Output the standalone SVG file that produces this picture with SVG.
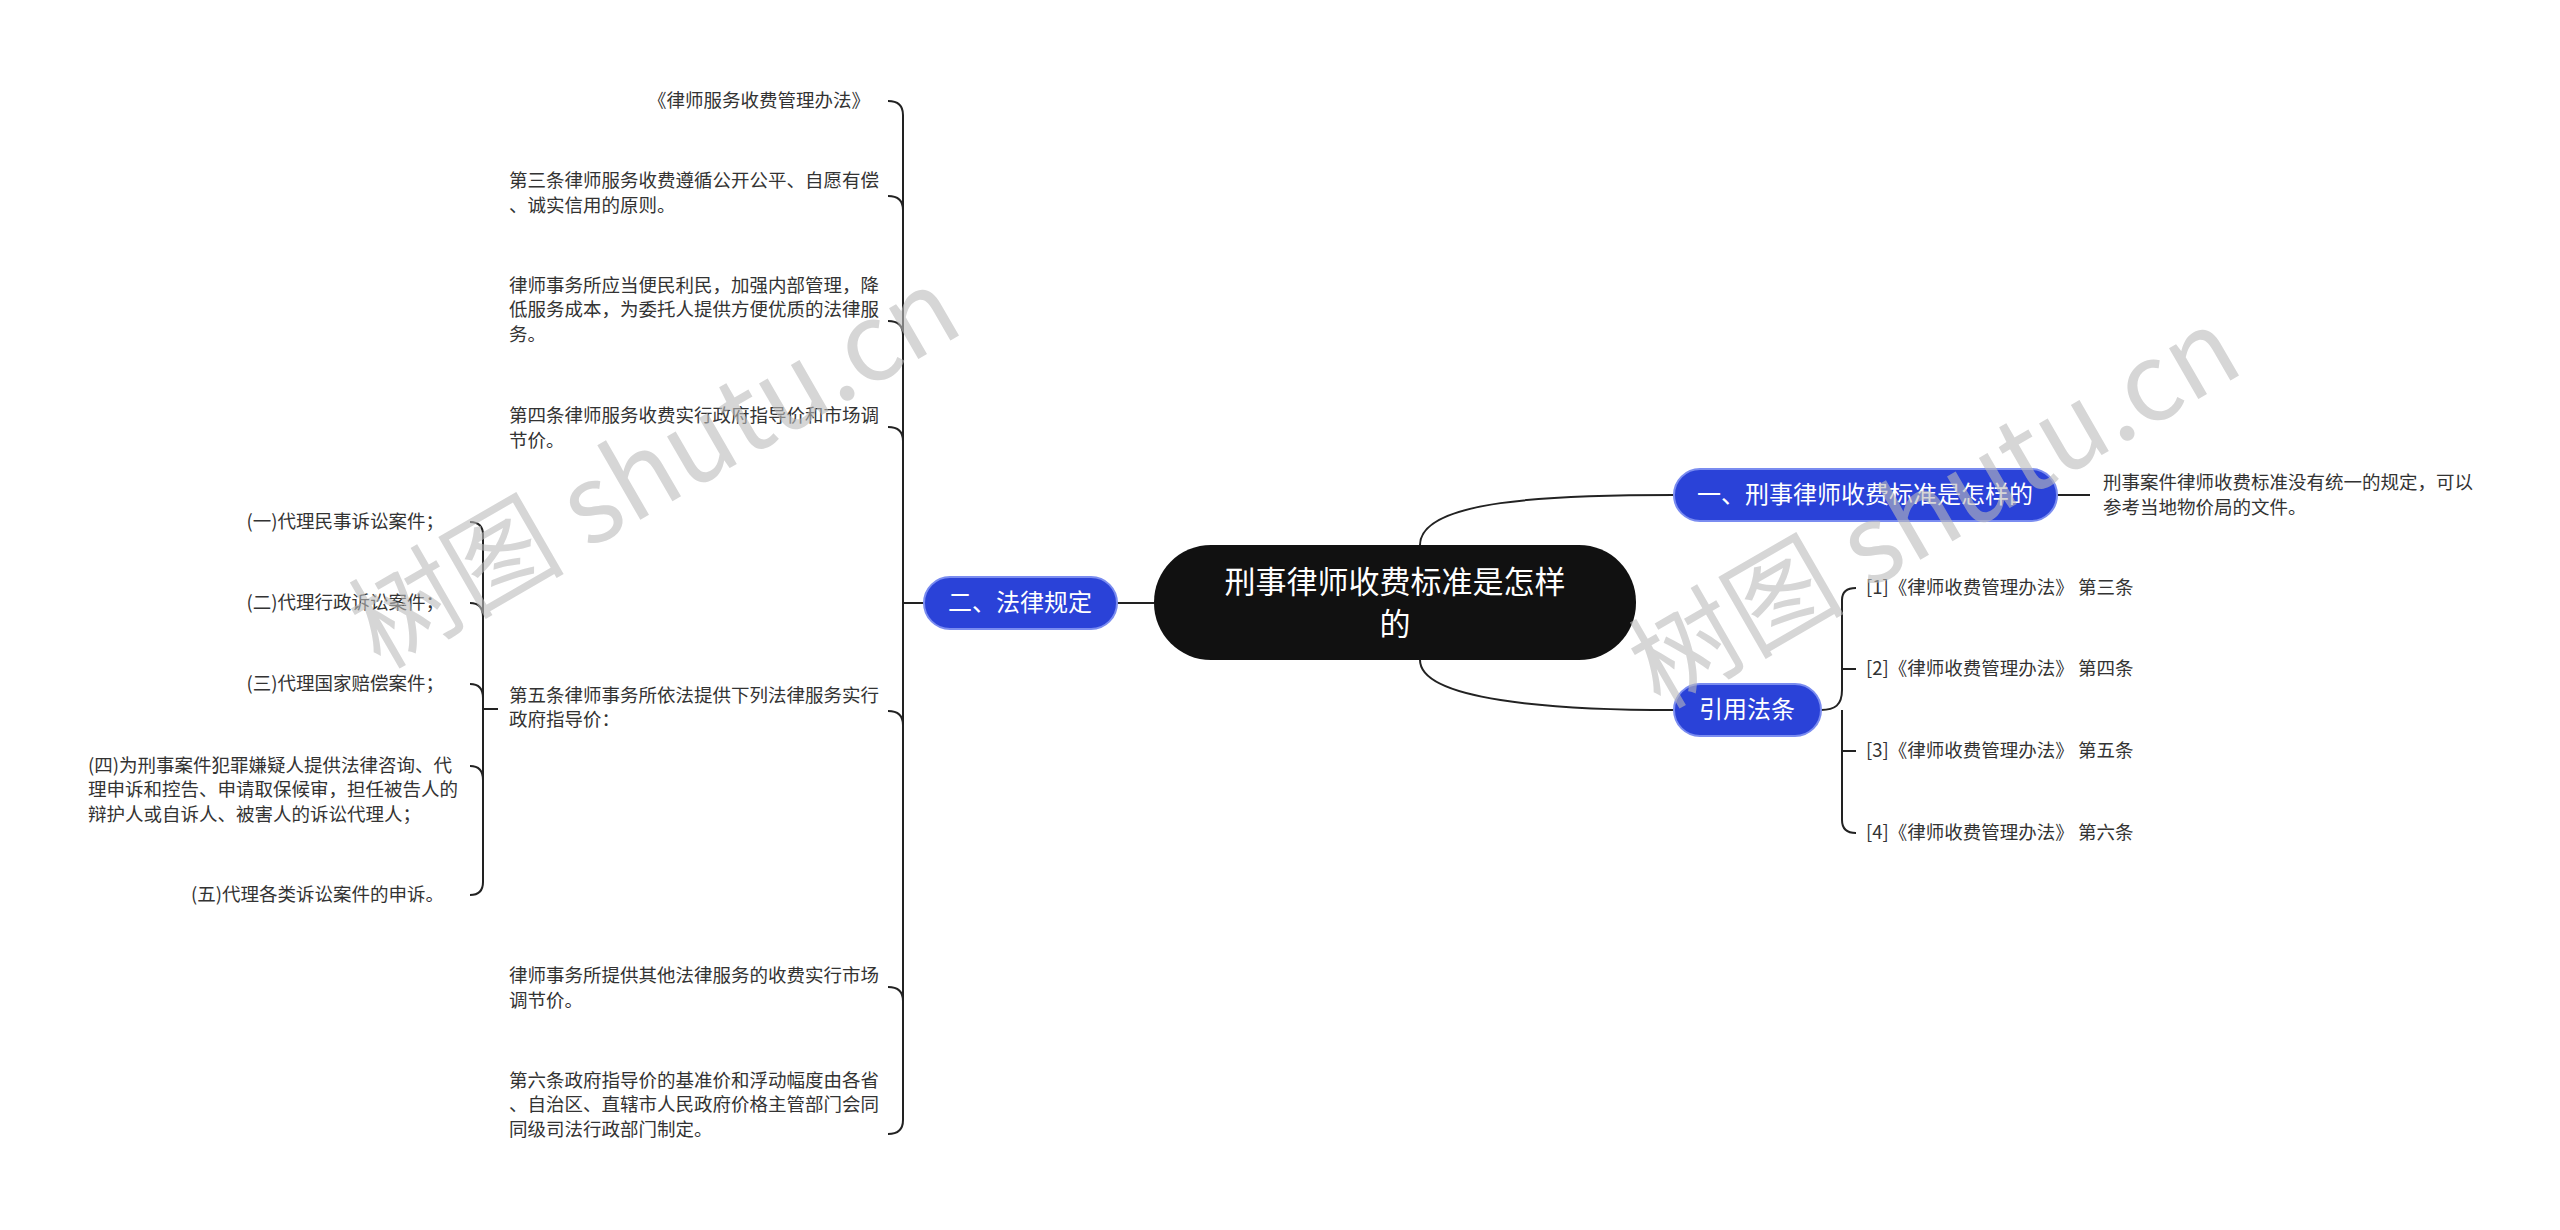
<svg xmlns="http://www.w3.org/2000/svg" width="2560" height="1230" viewBox="0 0 2560 1230">
<style>
text{font-family:"Noto Sans CJK SC","Liberation Sans",sans-serif;}
.leaf{font-size:18.5px;fill:#333}
.r{text-anchor:end}
.blue rect{fill:#2a42d8;stroke:#7a8cf0;stroke-width:2}
.blue text{fill:#fff;font-size:24px;text-anchor:middle}
.ln{fill:none;stroke:#222;stroke-width:2}
.wm{font-size:108px;fill:#bbb;opacity:0.6;font-family:"Noto Sans CJK SC","Liberation Serif",serif}
</style>
<rect width="2560" height="1230" fill="#fff"/>
<g id="connectors" class="ln">
<path d="M1420,545 C1420,500 1550,495 1674,495"/>
<path d="M1420,660 C1420,700 1550,710 1674,710"/>
<path d="M1154,603 L1117,603"/>
<path d="M2057,495 L2090,495"/>
<path d="M1821,710 C1835,710 1842,705 1842,690 L1842,600 Q1842,588 1856,588"/>
<path d="M1842,690 L1842,669 Q1842,669 1856,669"/>
<path d="M1842,710 L1842,751 Q1842,751 1856,751"/>
<path d="M1842,720 L1842,820 Q1842,833 1856,833"/>
<path d="M924,603 L903,603"/>
<path d="M903,603 L903,115 Q903,101 888,101"/>
<path d="M903,210 Q903,196 888,196"/>
<path d="M903,335 Q903,321 888,321"/>
<path d="M903,441 Q903,427 888,427"/>
<path d="M903,603 L903,1120 Q903,1134 888,1134"/>
<path d="M903,725 Q903,711 888,711"/>
<path d="M903,1001 Q903,987 888,987"/>
<path d="M498,709 L483,709"/>
<path d="M483,709 L483,535 Q483,522 470,522"/>
<path d="M483,617 Q483,603 470,603"/>
<path d="M483,698 Q483,684 470,684"/>
<path d="M483,780 Q483,766 470,766"/>
<path d="M483,709 L483,882 Q483,895 470,895"/>
</g>
<g id="center"><rect x="1154" y="545" width="482" height="115" rx="57" fill="#111"/><text x="1395" y="593" fill="#fff" font-size="31" text-anchor="middle">刑事律师收费标准是怎样</text><text x="1395" y="635" fill="#fff" font-size="31" text-anchor="middle">的</text></g>
<g id="n1" class="blue"><rect x="1674" y="469" width="383" height="52" rx="26"/><text x="1865" y="503">一、刑事律师收费标准是怎样的</text></g>
<g id="n2" class="blue"><rect x="924" y="577" width="193" height="52" rx="26"/><text x="1020" y="611">二、法律规定</text></g>
<g id="n3" class="blue"><rect x="1674" y="684" width="147" height="52" rx="26"/><text x="1747" y="718">引用法条</text></g>
<g id="r1" class="leaf"><text x="2103" y="489">刑事案件律师收费标准没有统一的规定，可以</text><text x="2103" y="514">参考当地物价局的文件。</text></g>
<g id="c1" class="leaf"><text x="1866" y="594">[1]《律师收费管理办法》 第三条</text></g>
<g id="c2" class="leaf"><text x="1866" y="675">[2]《律师收费管理办法》 第四条</text></g>
<g id="c3" class="leaf"><text x="1866" y="757">[3]《律师收费管理办法》 第五条</text></g>
<g id="c4" class="leaf"><text x="1866" y="839">[4]《律师收费管理办法》 第六条</text></g>
<g id="l1" class="leaf"><text class="r" x="870" y="107">《律师服务收费管理办法》</text></g>
<g id="l2" class="leaf"><text x="509" y="187">第三条律师服务收费遵循公开公平、自愿有偿</text><text x="509" y="212">、诚实信用的原则。</text></g>
<g id="l3" class="leaf"><text x="509" y="292">律师事务所应当便民利民，加强内部管理，降</text><text x="509" y="316">低服务成本，为委托人提供方便优质的法律服</text><text x="509" y="341">务。</text></g>
<g id="l4" class="leaf"><text x="509" y="422">第四条律师服务收费实行政府指导价和市场调</text><text x="509" y="447">节价。</text></g>
<g id="l5" class="leaf"><text x="509" y="702">第五条律师事务所依法提供下列法律服务实行</text><text x="509" y="726">政府指导价：</text></g>
<g id="l6" class="leaf"><text x="509" y="982">律师事务所提供其他法律服务的收费实行市场</text><text x="509" y="1007">调节价。</text></g>
<g id="l7" class="leaf"><text x="509" y="1087">第六条政府指导价的基准价和浮动幅度由各省</text><text x="509" y="1111">、自治区、直辖市人民政府价格主管部门会同</text><text x="509" y="1136">同级司法行政部门制定。</text></g>
<g id="s1" class="leaf"><text class="r" x="444" y="528">(一)代理民事诉讼案件；</text></g>
<g id="s2" class="leaf"><text class="r" x="444" y="609">(二)代理行政诉讼案件；</text></g>
<g id="s3" class="leaf"><text class="r" x="444" y="690">(三)代理国家赔偿案件；</text></g>
<g id="s4" class="leaf"><text x="88" y="772">(四)为刑事案件犯罪嫌疑人提供法律咨询、代</text><text x="88" y="796">理申诉和控告、申请取保候审，担任被告人的</text><text x="88" y="821">辩护人或自诉人、被害人的诉讼代理人；</text></g>
<g id="s5" class="leaf"><text class="r" x="444" y="901">(五)代理各类诉讼案件的申诉。</text></g>
<text class="wm" transform="translate(380,670) rotate(-30)">树图 shutu.cn</text>
<text class="wm" transform="translate(1660,710) rotate(-30)">树图 shutu.cn</text>
</svg>
